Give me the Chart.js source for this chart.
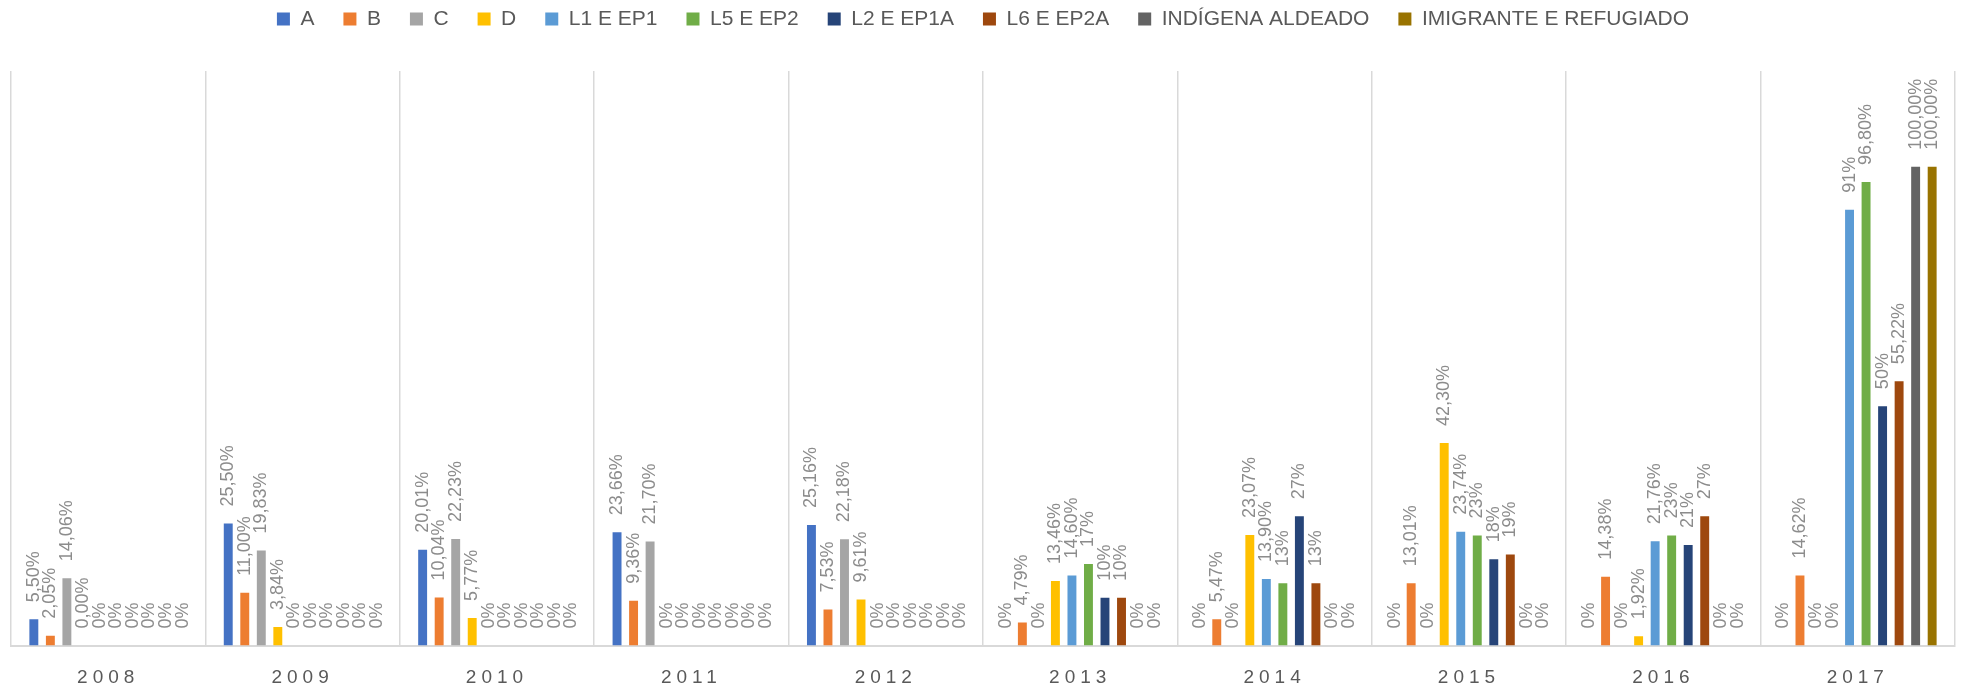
<!DOCTYPE html>
<html><head><meta charset="utf-8">
<script src="https://cdn.jsdelivr.net/npm/chart.js@4/dist/chart.umd.min.js"></script>
<style>html,body{margin:0;padding:0;background:#fff}#wrap{width:1966px;height:689px;position:relative}</style>
</head><body><div id="wrap"><canvas id="c"></canvas></div>
<script>
const categories = ['2008','2009','2010','2011','2012','2013','2014','2015','2016','2017'];
const seriesNames = ['A','B','C','D','L1 E EP1','L5 E EP2','L2 E EP1A','L6 E EP2A','INDÍGENA ALDEADO','IMIGRANTE E REFUGIADO'];
const seriesColors = ['#4472C4','#ED7D31','#A5A5A5','#FFC000','#5B9BD5','#70AD47','#264478','#9E480E','#636363','#997300'];

// values in percent
const valuesA   = [5.50, 25.50, 20.01, 23.66, 25.16, 0, 0, 0, 0, 0];
const valuesB   = [2.05, 11.00, 10.04, 9.36, 7.53, 4.79, 5.47, 13.01, 14.38, 14.62];
const valuesC   = [14.06, 19.83, 22.23, 21.70, 22.18, 0, 0, 0, 0, 0];
const valuesD   = [0.00, 3.84, 5.77, 0, 9.61, 13.46, 23.07, 42.30, 1.92, 0];
const valuesL1  = [0, 0, 0, 0, 0, 14.60, 13.90, 23.74, 21.76, 91];
const valuesL5  = [0, 0, 0, 0, 0, 17, 13, 23, 23, 96.80];
const valuesL2  = [0, 0, 0, 0, 0, 10, 27, 18, 21, 50];
const valuesL6  = [0, 0, 0, 0, 0, 10, 13, 19, 27, 55.22];
const valuesIND = [0, 0, 0, 0, 0, 0, 0, 0, 0, 100.00];
const valuesIMG = [0, 0, 0, 0, 0, 0, 0, 0, 0, 100.00];

// decimals shown in each data label
const decimalsA   = [2, 2, 2, 2, 2, 0, 0, 0, 0, 0];
const decimalsB   = [2, 2, 2, 2, 2, 2, 2, 2, 2, 2];
const decimalsC   = [2, 2, 2, 2, 2, 0, 0, 0, 0, 0];
const decimalsD   = [2, 2, 2, 0, 2, 2, 2, 2, 2, 0];
const decimalsL1  = [0, 0, 0, 0, 0, 2, 2, 2, 2, 0];
const decimalsL5  = [0, 0, 0, 0, 0, 0, 0, 0, 0, 2];
const decimalsL2  = [0, 0, 0, 0, 0, 0, 0, 0, 0, 0];
const decimalsL6  = [0, 0, 0, 0, 0, 0, 0, 0, 0, 2];
const decimalsIND = [0, 0, 0, 0, 0, 0, 0, 0, 0, 2];
const decimalsIMG = [0, 0, 0, 0, 0, 0, 0, 0, 0, 2];

const allValues = [valuesA, valuesB, valuesC, valuesD, valuesL1, valuesL5, valuesL2, valuesL6, valuesIND, valuesIMG];
const allDecimals = [decimalsA, decimalsB, decimalsC, decimalsD, decimalsL1, decimalsL5, decimalsL2, decimalsL6, decimalsIND, decimalsIMG];

function fmt(v, d) { return v.toFixed(d).replace('.', ',') + '%'; }

const datasets = seriesNames.map((name, i) => ({
  label: name,
  data: allValues[i],
  backgroundColor: seriesColors[i],
  borderWidth: 0,
  categoryPercentage: 0.85,
  barPercentage: 0.54
}));

const FONT = '"Liberation Sans", Arial, sans-serif';

const helper = {
  id: 'helper',
  beforeLayout(chart) {
    const lg = chart.legend;
    if (lg && !lg._patched) {
      const origFit = lg.fit;
      lg.fit = function () { origFit.call(this); this.height = 71; };
      const origDraw = lg.draw;
      lg.draw = function () {
        const c = this.ctx;
        c.save();
        c.translate(0, -20.5);
        origDraw.apply(this, arguments);
        c.restore();
      };
      lg._patched = true;
    }
  },
  afterDatasetsDraw(chart) {
    const ctx = chart.ctx;
    ctx.save();
    ctx.letterSpacing = '0px';
    ctx.font = '18px ' + FONT;
    ctx.fillStyle = '#8c8c8c';
    ctx.textAlign = 'left';
    ctx.textBaseline = 'middle';
    chart.data.datasets.forEach((ds, i) => {
      const meta = chart.getDatasetMeta(i);
      meta.data.forEach((bar, j) => {
        const txt = fmt(ds.data[j], allDecimals[i][j]);
        ctx.save();
        ctx.translate(bar.x, bar.y - 17);
        ctx.rotate(-Math.PI / 2);
        ctx.fillText(txt, 0, 0);
        ctx.restore();
      });
    });
    ctx.restore();
    ctx.letterSpacing = '5px';
  },
  afterDraw(chart) { chart.ctx.letterSpacing = '0px'; }
};

new Chart(document.getElementById('c'), {
  type: 'bar',
  data: { labels: categories, datasets },
  options: {
    responsive: true,
    maintainAspectRatio: false,
    devicePixelRatio: 1,
    animation: false,
    layout: { padding: { top: 0, left: 11, right: 11, bottom: 0 } },
    plugins: {
      tooltip: { enabled: false },
      legend: {
        position: 'top',
        align: 'center',
        labels: {
          boxWidth: 13, boxHeight: 13, padding: 29,
          color: '#595959',
          font: { family: FONT, size: 21 }
        }
      }
    },
    scales: {
      x: {
        grid: { display: true, offset: true, color: '#d9d9d9', lineWidth: 1.5, drawTicks: false },
        border: { display: true, color: '#d9d9d9', width: 2 },
        ticks: { color: '#595959', font: { family: FONT, size: 19 }, padding: 20.8, z: 1, maxRotation: 0 },
        afterFit(scale) { scale.height = 43.5; }
      },
      y: { display: false, min: 0, max: 120 }
    }
  },
  plugins: [helper]
});
</script></body></html>
